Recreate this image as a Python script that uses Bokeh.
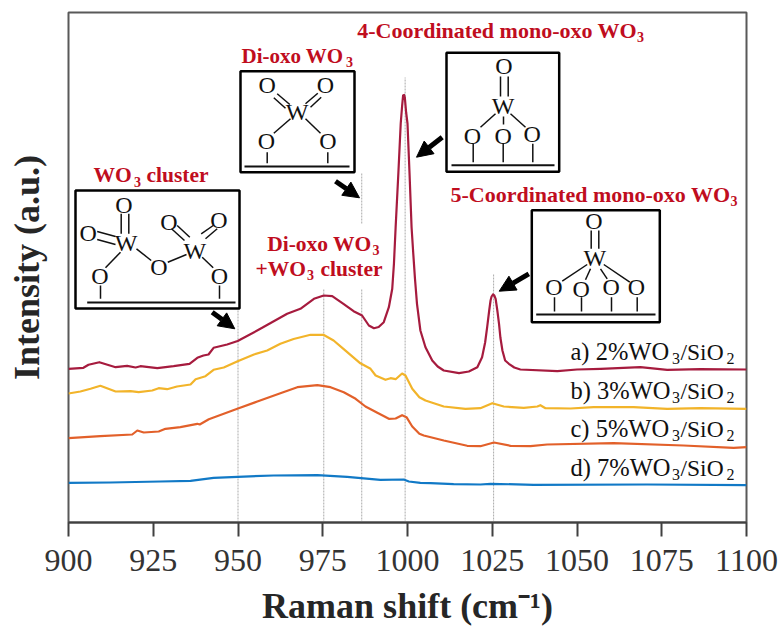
from math import pi
from bokeh.plotting import figure
from bokeh.models import Range1d, Label, Arrow, NormalHead, FixedTicker, LinearAxis
from bokeh.embed import file_html
from bokeh.resources import INLINE

# ---- data (wavenumber, cm-1 / relative intensity) ----
wn_a = [900,904.4,905.9,909.1,913.9,917.3,919.8,921.2,926.2,931,935.7,938,939.8,941.3,942.8,946.8,949.9,956.6,964.5,968.4,972.4,975.3,977.8,981.1,984.1,986.6,988.6,990.1,991.5,993,994.5,995.5,996,996.5,997.3,998,998.4,998.7,999,999.2,999.6,1000,1000.6,1001.2,1001.7,1002.2,1002.8,1003.8,1005.3,1007.3,1008.9,1010.7,1015.2,1018.1,1020.6,1022,1022.9,1023.5,1024.1,1024.5,1024.8,1025.2,1025.6,1026,1026.5,1027,1027.4,1028,1028.8,1029.9,1031.5,1033.3,1044.2,1050,1057,1068.7,1076.6,1086.4,1100]
int_a = [153.7,154.7,157.7,160.3,155.3,156.7,155,156.3,154.3,156.3,158.7,164.7,167,168,174.7,178,181.5,193.7,208.7,213.7,223.7,227,226.3,218.7,211.3,207,197,194.3,195.5,200.3,215.3,233.7,258.7,295.3,349,399,416,427,427.5,425.3,410,399,349,295.3,269,244,218.7,192,175.3,162,156,152,149.3,151,155.3,165.3,180,195.3,212,222,226,228,227,223.7,212,198.7,185,172,162,158.7,155,153,151.3,153,153.7,155.3,152.7,153.3,153]
wn_b = [900,903.5,906.5,909.4,913.9,918.3,920.7,924.7,926.6,929.1,932,936,937.5,940.4,942.8,945.8,949.9,954.7,958.6,962.5,966.4,971.4,975.2,978.2,981.1,986.1,989.1,990.6,993.5,995,996.5,998.4,999.4,1001.4,1003.5,1005.3,1010.7,1017.1,1021.5,1025,1028.4,1034.3,1038.3,1039.2,1040.7,1048.1,1054.9,1066.7,1076.6,1086.4,1100]
int_b = [129,131,133.7,136.7,131,131.3,130.3,132,134.3,133.3,136,138,143.3,146.3,152.7,155,161.3,168,172,178.7,183.5,187.7,187.7,182,173.7,159.2,153.7,147,142.7,144.3,143.3,149,147,133.7,125.3,122,116,113.7,114.3,119.3,116,114.7,116,117.3,114.3,114,115.3,115.3,113.7,114.3,113.7]
wn_c = [900,909.4,918.8,920.3,922.2,926.6,928.6,933,938,938.7,941.4,949.8,955.7,962.5,967.5,973.4,977.3,981.2,984.7,987.6,991.1,994.5,996.5,998.4,999.7,1001.4,1003.5,1004.8,1010.7,1017.6,1021.5,1025.5,1030.4,1036.3,1041.2,1060.8,1081.4,1096.2,1100]
int_c = [84.3,86.3,88,92,90,91,93.7,95.3,98.7,98,103.3,113.7,121,129.3,135.3,137.3,135.3,130.3,123.7,116,109.7,103.7,104,107.3,105.3,96,88.7,87,82,76.7,76.3,80,76.7,76.3,78,79.3,77,74.7,75.3]
wn_d = [900,912.4,927.1,936,942.8,949.9,960.5,973.4,982.2,992,998.9,1000.4,1003.8,1006.8,1013.6,1021.5,1024.5,1037.2,1070.7,1100]
int_d = [39.7,40,41,41.7,44.7,45.7,47,47.3,45.7,42.7,43,41,39.7,39.3,38.3,38,38.7,37.7,38,37.3]
x_ticks = [900,925,950,975,1000,1025,1050,1075,1100]
guide_wn = [950,975.3,986.5,999.3,1025.4]
guide_top = [212,234,234,445,249]
series_colors = ["#A61B3E","#F2B42A","#E2602A","#1179C6"]

W, H = 782, 633
p = figure(width=W, height=H, output_backend="svg", toolbar_location=None,
           x_range=Range1d(900,1100), y_range=Range1d(0,510),
           min_border_left=68, min_border_right=36, min_border_top=12, min_border_bottom=111,
           background_fill_color="white", border_fill_color="white")
p.grid.visible = False
p.yaxis.visible = False
ax = p.xaxis[0]
ax.ticker = FixedTicker(ticks=x_ticks)
ax.major_tick_in = 0
ax.major_tick_out = 14
ax.minor_tick_line_color = None
ax.axis_line_color = "#404040"
ax.axis_line_width = 2
ax.major_tick_line_color = "#404040"
ax.major_tick_line_width = 2
ax.major_label_text_font = "Liberation Serif"
ax.major_label_text_font_size = "32px"
ax.major_label_text_color = "#333333"
ax.major_label_standoff = 13
p.outline_line_color = "#595959"
p.outline_line_width = 2

def title_axis(label, standoff):
    a = LinearAxis(ticker=FixedTicker(ticks=[]), axis_label=label, axis_line_color=None,
                   major_tick_line_color=None, minor_tick_line_color=None,
                   major_label_text_color=None, major_tick_out=0, major_tick_in=0,
                   minor_tick_out=0, minor_tick_in=0, major_label_standoff=0,
                   axis_label_text_font="Liberation Serif", axis_label_text_font_size="36px",
                   axis_label_text_font_style="bold", axis_label_text_color="#262626",
                   axis_label_text_line_height=0.8,
                   axis_label_standoff=standoff)
    return a

p.add_layout(title_axis("Raman shift (cm\u207b\u00b9)", 12), "below")
p.add_layout(title_axis("Intensity (a.u.)", 22), "left")

def X(px): return 900 + (px - 68) / 3.39
def Y(py): return 522 - py

# guides
for w, t in zip(guide_wn, guide_top):
    p.line([w, w], [0, t], line_color="#aaaaaa", line_width=1, line_dash="2 1")
p.line([guide_wn[2]]*2, [Y(223), Y(173)], line_color="#aaaaaa", line_width=1, line_dash="2 1")

# curves
for xs, ys, c in zip((wn_d, wn_c, wn_b, wn_a), (int_d, int_c, int_b, int_a), reversed(series_colors)):
    p.line(xs, ys, line_color=c, line_width=2.2, line_join="round")

def box(l, r, t, b):
    p.quad(left=[X(l)], right=[X(r)], top=[Y(t)], bottom=[Y(b)], fill_color="white",
           line_color="black", line_width=2.5)

def bonds(segs, lw=1.5):
    for x0, y0, x1, y1 in segs:
        p.line([X(x0), X(x1)], [Y(y0), Y(y1)], line_color="#111111", line_width=lw)

def txt(px, py, s, size, color="black", bold=False, align="left", baseline="alphabetic"):
    if baseline == "alphabetic":
        py = py - 0.36 * size
    p.add_layout(Label(x=X(px), y=Y(py), text=s, text_font="Liberation Serif",
                       text_font_size=f"{size}px", text_color=color,
                       text_font_style="bold" if bold else "normal",
                       text_align=align, text_baseline=baseline))

def atoms(lst):
    for px, py, s in lst:
        txt(px, py, s, 24, "#111111", align="center", baseline="middle")

# structure boxes
box(75,239,190,308); box(240,354,70.7,171.7); box(446,558.7,52.3,171.3); box(531.3,659.3,209.7,321.7)
bonds([(120,251.7,105,267.3),(136,248.3,150.7,260),(167.3,261.7,186,254),(201.7,256.7,212.7,267.3),
       (120.7,213.3,120.7,233.3),(128.3,213.3,128.3,233.3),(96.7,231,115,236),(96.7,239,115,244),
       (171,228.3,184,240),(176.7,225,189.3,236.7),(200.7,233.3,212.7,225),(205,238.3,216.7,228.3),
       (100,285,100,298.3),(219,285,219,298.3)])
bonds([(86.7,302,235,302)], 2)
atoms([(123.3,204,"O"),(125.7,242.7,"W"),(87.7,232.3,"O"),(99.3,275.7,"O"),(158.3,266.7,"O"),
       (194.3,250,"W"),(168.3,221,"O"),(218.3,219.3,"O"),(219,275.7,"O")])
bonds([(290,118.3,273.3,132.7),(305,118.3,320,132.7),(276.7,93.3,289.3,104),(273.3,97.3,285,107.7),
       (305,103.3,317.3,92.7),(310,106.7,320.7,96.7),(266.7,151.7,266.7,162.7),(327.3,151.7,327.3,162.7)])
bonds([(244,166,349,166)], 2)
atoms([(266.7,84.3,"O"),(325,84.3,"O"),(296.7,111,"W"),(266,140,"O"),(327.3,140,"O")])
bonds([(500,76,500,96),(507.7,76,507.7,96),(495,113.3,480,126.7),(510,113.3,525,126.7),(503,116,503,124),
       (472.7,143.3,472.7,161.7),(502.7,143.3,502.7,161.7),(532.3,143.3,532.3,161.7)])
bonds([(451,164.7,554,164.7)], 2)
atoms([(503.3,65.7,"O"),(502.7,105.7,"W"),(472,135,"O"),(502.7,135,"O"),(531.7,133.3,"O")])
bonds([(590.7,230,590.7,248.3),(598.3,230,598.3,248.3),(586.7,264,561.7,280.7),(590,268.3,585,279.3),
       (600,268.3,606.7,278.3),(603.3,264,629.3,281.7),(554,296.7,554,311),(581,296.7,581,311),
       (611,296.7,611,311),(636.7,296.7,636.7,311)])
bonds([(535.7,314,655,314)], 2)
atoms([(593.3,220.7,"O"),(594.3,257.3,"W"),(553.3,286.7,"O"),(580.7,288.3,"O"),(610.7,286.7,"O"),(636,286.7,"O")])

# arrows
for x0, y0, x1, y1 in [(211.7,311.7,234.3,328.3),(335,180.7,359,197.3),(441.7,136.7,416,156.7),(528.3,273.3,498.7,290.7)]:
    p.add_layout(Arrow(x_start=X(x0), y_start=Y(y0), x_end=X(x1), y_end=Y(y1), line_color="black", line_width=5,
                       end=NormalHead(size=16, fill_color="black", line_color="black", line_width=1)))

# red annotations
RED = "#C00D1E"
def red(px, py, s, size, sub_x=None, rest=None, rest_x=None):
    txt(px, py, s, size, RED, True)
    if sub_x is not None:
        txt(sub_x, py+4, "3", 14, RED, True)
    if rest:
        txt(rest_x, py, rest, size, RED, True)

red(241, 62.7, "Di-oxo WO", 21, 345.5)
red(356.7, 38, "4-Coordinated mono-oxo WO", 22, 636.5)
red(450, 201.7, "5-Coordinated mono-oxo WO", 22, 730)
red(93, 182.7, "WO", 21.5, 133.5, "cluster", 146)
red(266.7, 251, "Di-oxo WO", 21.5, 372)
red(255, 276, "+WO", 21.5, 306.5, "cluster", 320)

# series labels
for py, s in zip([360, 399, 436.7, 476], ["a) 2%WO", "b) 3%WO", "c) 5%WO", "d) 7%WO"]):
    txt(570, py, s, 24.5, "#111111")
    txt(671.5, py+4, "3", 16, "#111111")
    txt(680, py, "/SiO", 23.5, "#111111")
    txt(726, py+4, "2", 16, "#111111")

open("out.html", "w").write(file_html(p, INLINE))
